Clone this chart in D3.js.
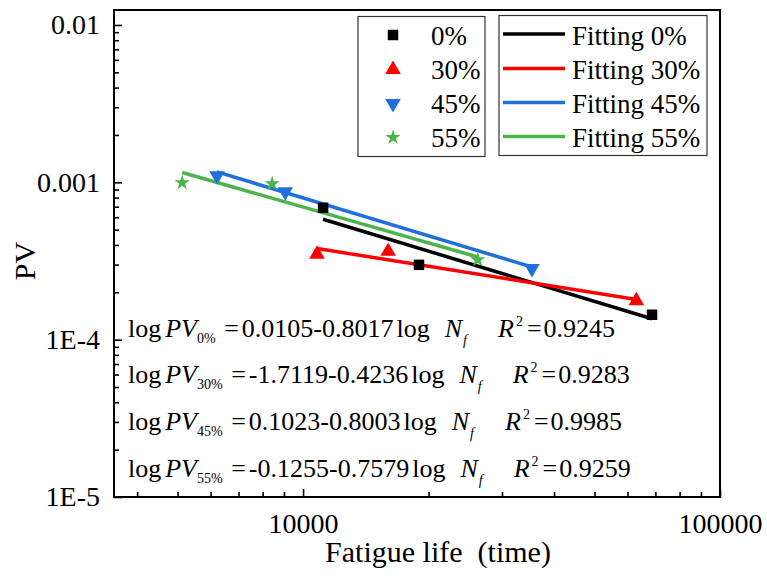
<!DOCTYPE html>
<html>
<head>
<meta charset="utf-8">
<script src="https://cdn.jsdelivr.net/npm/d3@7"></script>
<style>
  html, body { margin: 0; padding: 0; background: #fff; }
  svg { display: block; }
</style>
</head>
<body>
<svg id="chart" width="767" height="579"></svg>
<script>
// Series (ash content) and their fatigue-life / PV measurements
const seriesNames = ["0%", "30%", "45%", "55%"];
const seriesColors = ["#000000", "#ff0000", "#1f6fdc", "#4bb54b"];
const seriesSymbols = ["square", "triangleUp", "triangleDown", "star"];

const life0 = [11170, 18970, 68700];
const pv0 = [6.89e-4, 2.99e-4, 1.44e-4];
const life30 = [10800, 16000, 63000];
const pv30 = [3.49e-4, 3.64e-4, 1.77e-4];
const life45 = [6220, 9060, 35400];
const pv45 = [1.10e-3, 8.7e-4, 2.83e-4];
const life55 = [5130, 8430, 26240];
const pv55 = [9.93e-4, 9.8e-4, 3.22e-4];

// Linear fits in log-log space: log PV = a + b log Nf
const fitIntercept = [0.0105, -1.7119, 0.1023, -0.1255];
const fitSlope = [-0.8017, -0.4236, -0.8003, -0.7579];
const fitR2 = [0.9245, 0.9283, 0.9985, 0.9259];

// Axis ticks
const xMajorTicks = [10000, 100000];
const xTickLabels = ["10000", "100000"];
const yMajorTicks = [0.01, 0.001, 1e-4, 1e-5];
const yTickLabels = ["0.01", "0.001", "1E-4", "1E-5"];

const lifeData = [life0, life30, life45, life55];
const pvData = [pv0, pv30, pv45, pv55];

const FONT = '"Liberation Serif"';
const svg = d3.select("#chart");
const plot = { left: 114, right: 720, top: 10, bottom: 497 };

const x = d3.scaleLog().domain([3520, 100000]).range([plot.left, plot.right]);
const y = d3.scaleLog().domain([1e-5, 0.01245]).range([plot.bottom, plot.top]);

// minor ticks: 2..9 within each decade
function minorTicks(lo, hi) {
  const out = [];
  for (let e = Math.floor(Math.log10(lo)); e <= Math.ceil(Math.log10(hi)); e++) {
    for (let m = 2; m <= 9; m++) {
      const v = m * Math.pow(10, e);
      if (v > lo && v < hi) out.push(v);
    }
  }
  return out;
}

function label(sel, size) {
  return sel.style("font-family", FONT).style("font-size", size + "px").attr("fill", "#000");
}

// X axis
const gx = svg.append("g").attr("transform", `translate(0,${plot.bottom})`);
gx.append("g").call(d3.axisBottom(x).tickValues(minorTicks(3520, 100000)).tickSize(-5).tickFormat(""));
gx.append("g").call(d3.axisBottom(x).tickValues(xMajorTicks).tickSize(-8).tickPadding(16)
  .tickFormat((d, i) => xTickLabels[i]));
gx.selectAll(".domain").remove();

// Y axis
const gy = svg.append("g").attr("transform", `translate(${plot.left},0)`);
gy.append("g").call(d3.axisLeft(y).tickValues(minorTicks(1e-5, 0.01245)).tickSize(-5).tickFormat(""));
gy.append("g").call(d3.axisLeft(y).tickValues(yMajorTicks).tickSize(-8).tickPadding(14)
  .tickFormat((d, i) => yTickLabels[i]));
gy.selectAll(".domain").remove();

svg.selectAll(".tick line").attr("stroke", "#000").attr("stroke-width", 1.6);
label(svg.selectAll(".tick text"), 28);

// Frame
svg.append("rect")
  .attr("x", plot.left).attr("y", plot.top)
  .attr("width", plot.right - plot.left).attr("height", plot.bottom - plot.top)
  .attr("fill", "none").attr("stroke", "#000").attr("stroke-width", 2);

// Axis titles
label(svg.append("text"), 30).attr("x", 438).attr("y", 562).attr("text-anchor", "middle")
  .style("white-space", "pre").text("Fatigue life  (time)");
label(svg.append("text"), 30).attr("transform", "translate(35,261) rotate(-90)")
  .attr("text-anchor", "middle").text("PV");

// Fitted lines
const line = d3.line().x(d => x(d[0])).y(d => y(d[1]));
seriesNames.forEach((name, i) => {
  const ext = d3.extent(lifeData[i]);
  const pts = ext.map(n => [n, Math.pow(10, fitIntercept[i] + fitSlope[i] * Math.log10(n))]);
  svg.append("path").attr("d", line(pts))
    .attr("fill", "none").attr("stroke", seriesColors[i]).attr("stroke-width", 3.5);
});

// Marker shapes
function symbolPath(kind) {
  if (kind === "square") return d3.symbol(d3.symbolSquare, 110)();
  if (kind === "star") return d3.symbol(d3.symbolStar, 72)();
  return d3.symbol(d3.symbolTriangle, 105)();
}
function drawSymbol(g, kind, cx, cy, color) {
  const rot = kind === "triangleDown" ? " rotate(180)" : "";
  g.append("path").attr("d", symbolPath(kind))
    .attr("transform", `translate(${cx},${cy})${rot}`)
    .attr("fill", color);
}

// Scatter points
seriesNames.forEach((name, i) => {
  const g = svg.append("g");
  lifeData[i].forEach((n, j) => drawSymbol(g, seriesSymbols[i], x(n), y(pvData[i][j]), seriesColors[i]));
});

// Legends
const legendRows = [35, 69.5, 103.5, 137.5];
svg.append("rect").attr("x", 358).attr("y", 16.5).attr("width", 127).attr("height", 140)
  .attr("fill", "#fff").attr("stroke", "#333").attr("stroke-width", 1.2);
svg.append("rect").attr("x", 499).attr("y", 15.5).attr("width", 208).attr("height", 140)
  .attr("fill", "#fff").attr("stroke", "#333").attr("stroke-width", 1.2);
seriesNames.forEach((name, i) => {
  const g = svg.append("g");
  drawSymbol(g, seriesSymbols[i], 393, legendRows[i], seriesColors[i]);
  label(g.append("text"), 27).attr("x", 431).attr("y", legendRows[i] + 9.5).text(name);
  g.append("line").attr("x1", 503).attr("x2", 565)
    .attr("y1", legendRows[i] - 1).attr("y2", legendRows[i] - 1)
    .attr("stroke", seriesColors[i]).attr("stroke-width", 3.5);
  label(g.append("text"), 27).attr("x", 572).attr("y", legendRows[i] + 9.5).text("Fitting " + name);
});

// Fit equations (plain hyphen-minus, as printed in the original figure)
const eqBaselines = [337, 383, 430, 477];
const eqFont = 26, subFont = 14;
const fmt = v => (v < 0 ? "-" : "") + Math.abs(v).toFixed(4);
seriesNames.forEach((name, i) => {
  const t = label(svg.append("text"), eqFont).attr("x", 128).attr("y", eqBaselines[i])
    .style("white-space", "pre");
  t.append("tspan").text("log");
  t.append("tspan").attr("dx", 4).style("font-style", "italic").text("PV");
  t.append("tspan").attr("dy", 6).style("font-size", subFont + "px").text(name);
  t.append("tspan").attr("dy", -6).attr("dx", 8.5).text("=");
  t.append("tspan").attr("dx", 3)
    .text(fmt(fitIntercept[i]) + "-" + fmt(Math.abs(fitSlope[i])));
  t.append("tspan").attr("dx", 3).text("log");
  t.append("tspan").attr("dx", 15).style("font-style", "italic").text("N");
  t.append("tspan").attr("dy", 8).attr("dx", 1).style("font-size", subFont + "px").style("font-style", "italic").text("f");
  t.append("tspan").attr("dy", -8).attr("dx", 31).style("font-style", "italic").text("R");
  t.append("tspan").attr("dy", -11).attr("dx", 2).style("font-size", subFont + "px").text("2");
  t.append("tspan").attr("dy", 11).attr("dx", 4).text("=");
  t.append("tspan").attr("dx", 2).text(fmt(fitR2[i]));
});
</script>
</body>
</html>
